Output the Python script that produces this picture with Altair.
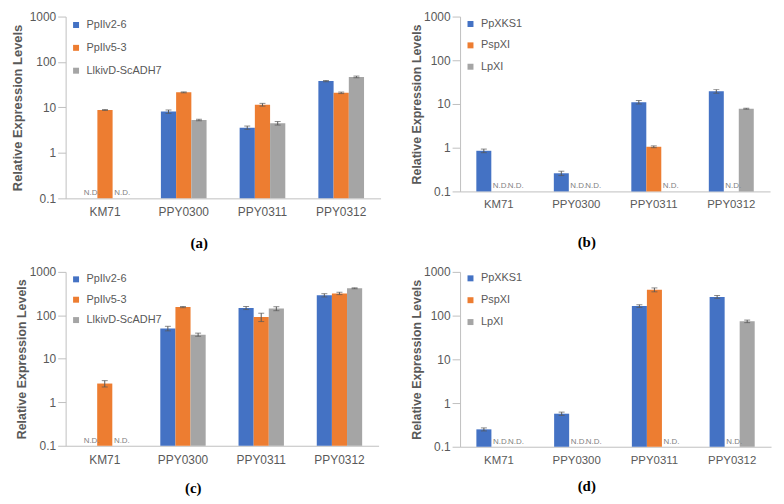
import altair as alt
import pandas as pd

groups = ["KM71", "PPY0300", "PPY0311", "PPY0312"]
series_ilv = ["PpIlv2-6", "PpIlv5-3", "LlkivD-ScADH7"]
series_xyl = ["PpXKS1", "PspXI", "LpXI"]
colors = ["#4472C4", "#ED7D31", "#A5A5A5"]

# (a)
a_means = [[None, 8.1, 3.6, 38.0], [8.8, 21.5, 11.5, 21.0], [None, 5.3, 4.5, 47.0]]
a_errs = [[None, 0.7, 0.3, 1.2], [0.2, 0.5, 0.8, 0.8], [None, 0.2, 0.4, 2.0]]
# (b)
b_means = [[0.85, 0.26, 11.0, 19.5], [None, None, 1.05, None], [None, None, None, 7.8]]
b_errs = [[0.08, 0.03, 1.0, 1.8], [None, None, 0.05, None], [None, None, None, 0.2]]
# (c)
c_means = [[None, 50.0, 148.0, 290.0], [2.7, 155.0, 92.0, 320.0], [None, 36.0, 143.0, 420.0]]
c_errs = [[None, 6.0, 12.0, 25.0], [0.45, 5.0, 20.0, 20.0], [None, 3.0, 15.0, 10.0]]
# (d)
d_means = [[0.25, 0.57, 165.0, 268.0], [None, None, 390.0, None], [None, None, None, 74.0]]
d_errs = [[0.02, 0.05, 12.0, 20.0], [None, None, 40.0, None], [None, None, None, 5.0]]

captions = ["(a)", "(b)", "(c)", "(d)"]
y_title = "Relative Expression Levels"
y_ticks = [0.1, 1, 10, 100, 1000]
nd_label = "N.D."

TXT = "#595959"
AX = "#BFBFBF"


def build_frame(means, errs, series):
    rows = []
    for si, s in enumerate(series):
        for gi, g in enumerate(groups):
            m = means[si][gi]
            e = errs[si][gi]
            rows.append({
                "group": g,
                "series": s,
                "value": m,
                "lo": (m - e) if m is not None else None,
                "hi": (m + e) if m is not None else None,
                "nd": nd_label if m is None else "",
            })
    return pd.DataFrame(rows)


def panel(means, errs, series, caption, w, h, cfg):
    df = build_frame(means, errs, series)
    base = alt.Chart(df)
    yscale = alt.Scale(type="log", domain=[0.1, 1000], nice=False)
    x = alt.X("group:N", sort=groups,
              scale=alt.Scale(type="band", paddingInner=0.42, paddingOuter=0.21),
              axis=alt.Axis(title=caption, labelAngle=0, ticks=False, tickSize=0,
                            domainColor=AX, labelColor=TXT, labelFontSize=cfg["xl"],
                            labelPadding=cfg["xlp"], labelBaseline="top",
                            titleFont="Liberation Serif", titleFontSize=15,
                            titleFontWeight="bold", titleColor="#000000",
                            titleX=cfg["cx"], titleY=cfg["cy"], titleAlign="center",
                            titleBaseline="middle"))
    xo = alt.XOffset("series:N", sort=series,
                     scale=alt.Scale(type="band", domain=series,
                                     paddingInner=0, paddingOuter=0))
    yaxis = alt.Axis(values=y_ticks, format="~g", title=y_title, grid=False,
                     titleFontWeight="bold", titleFontSize=cfg["tf"], titleColor=TXT,
                     titleX=cfg["tx"], titleY=h / 2, titleAlign="center",
                     titleBaseline="middle", labelFontSize=12, labelColor=TXT,
                     tickSize=8, tickColor=AX, domainColor=AX, labelPadding=2)
    valid = base.transform_filter("isValid(datum.value)")
    bars = valid.mark_bar().encode(
        x=x, xOffset=xo,
        y=alt.Y("value:Q", scale=yscale, axis=yaxis),
        y2=alt.datum(0.1),
        color=alt.Color("series:N", sort=series,
                        scale=alt.Scale(domain=series, range=colors),
                        legend=alt.Legend(orient="none", legendX=5, legendY=cfg["ly"],
                                          title=None, symbolType="square", symbolSize=36,
                                          symbolStrokeWidth=0, labelFontSize=11,
                                          labelColor=TXT, rowPadding=cfg["rp"],
                                          labelOffset=5, padding=0)),
    )
    rules = valid.mark_rule(color=TXT, strokeWidth=1).encode(
        x=x, xOffset=xo,
        y=alt.Y("lo:Q", scale=yscale, axis=yaxis), y2="hi:Q")
    cap_lo = valid.mark_tick(color=TXT, thickness=1, size=6).encode(
        x=x, xOffset=xo, y=alt.Y("lo:Q", scale=yscale, axis=yaxis))
    cap_hi = valid.mark_tick(color=TXT, thickness=1, size=6).encode(
        x=x, xOffset=xo, y=alt.Y("hi:Q", scale=yscale, axis=yaxis))
    nd = base.transform_filter("!isValid(datum.value)").transform_calculate(
        base_y="0.1").mark_text(
        fontSize=8, color="#7F7F7F", baseline="bottom", dx=2, dy=-1).encode(
        x=x, xOffset=xo, y=alt.Y("base_y:Q", scale=yscale, axis=yaxis),
        text="nd:N")
    return alt.layer(bars, rules, cap_lo, cap_hi, nd).properties(width=w, height=h)


pa = panel(a_means, a_errs, series_ilv, captions[0], 317, 183,
           dict(xl=12, xlp=8, cx=134, cy=44, tx=-48, tf=13, ly=3, rp=11))
pb = panel(b_means, b_errs, series_xyl, captions[1], 312, 176,
           dict(xl=11.5, xlp=7, cx=127, cy=50, tx=-44, tf=12.5, ly=2, rp=9.5))
pc = panel(c_means, c_errs, series_ilv, captions[2], 315, 175,
           dict(xl=12, xlp=9, cx=128, cy=42, tx=-44, tf=12.5, ly=2, rp=8.5))
pd_ = panel(d_means, d_errs, series_xyl, captions[3], 313, 176,
            dict(xl=11.5, xlp=8, cx=127, cy=39, tx=-44, tf=12.5, ly=1, rp=10))

chart = alt.concat(
    pa, pb, pc, pd_, columns=2, spacing={"row": 74, "column": 80}, bounds="flush"
).resolve_scale(
    color="independent", xOffset="independent"
).properties(
    padding={"left": 3, "top": 1, "right": 5, "bottom": 5},
    background="white",
).configure(font="Liberation Sans").configure_view(stroke=None)

chart.save("out.html", embed_options={"renderer": "svg", "actions": False})
